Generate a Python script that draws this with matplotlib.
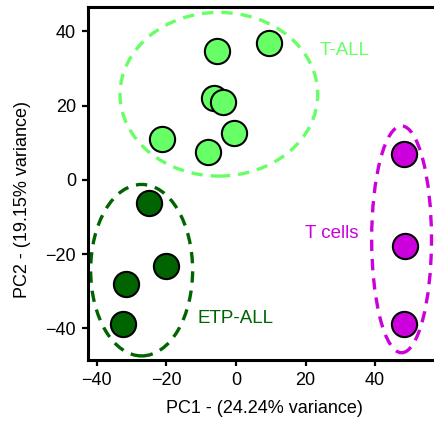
import matplotlib
matplotlib.use("Agg")
import matplotlib.pyplot as plt
from matplotlib.patches import Ellipse

plt.rcParams['font.family'] = ['Liberation Sans', 'DejaVu Sans']

# Data
tall_x = [-5.4, 9.6, -6.2, -3.6, -0.6, -21.3, -8.1]
tall_y = [34.8, 37.0, 22.2, 21.1, 12.6, 11.1, 7.6]
etp_x = [-25.0, -20.2, -31.5, -32.5]
etp_y = [-6.3, -23.3, -28.0, -38.7]
tcell_x = [48.2, 48.7, 48.4]
tcell_y = [6.9, -17.9, -38.8]

groups = ["T-ALL", "ETP-ALL", "T cells"]
colors = {"T-ALL": "#66FF66", "ETP-ALL": "#006400", "T cells": "#CC00DD"}
# ellipse: center x, center y, width, height
ellipses = {
    "T-ALL": (-4.9, 23.1, 56.8, 44.1),
    "ETP-ALL": (-27.1, -24.3, 29.3, 46.2),
    "T cells": (47.6, -16.0, 17.2, 61.1),
}
label_pos = {"T-ALL": (24.1, 34.8), "ETP-ALL": (-11.0, -37.3), "T cells": (19.8, -14.4)}

xticks = [-40, -20, 0, 20, 40]
yticks = [-40, -20, 0, 20, 40]
xlim = (-42.6, 60)
ylim = (-48.5, 46.6)

W, H = 434, 423
fig = plt.figure(figsize=(W / 100, H / 100), dpi=100)
left_px, top_px, bottom_px = 87.7, 7.0, 360.0
pxu = 3.48
right_px = left_px + (xlim[1] - xlim[0]) * pxu
ax = fig.add_axes([left_px / W, (H - bottom_px) / H, (right_px - left_px) / W, (bottom_px - top_px) / H])
ax.set_xlim(*xlim)
ax.set_ylim(*ylim)

pts = {"T-ALL": (tall_x, tall_y), "ETP-ALL": (etp_x, etp_y), "T cells": (tcell_x, tcell_y)}
for g in groups:
    cx, cy, w, h = ellipses[g]
    ax.add_patch(Ellipse((cx, cy), w, h, fill=False, edgecolor=colors[g],
                         linestyle=(0, (3.4, 2.4)), linewidth=2.4, zorder=2))
    xs, ys = pts[g]
    ax.scatter(xs, ys, s=330, c=colors[g], edgecolors='black', linewidths=1.5, zorder=3)
    lx, ly = label_pos[g]
    ax.text(lx, ly, g, color=colors[g], fontsize=13.5, ha='left', va='center', zorder=4)

for s in ax.spines.values():
    s.set_linewidth(2.2)
ax.set_xticks(xticks)
ax.set_yticks(yticks)
ax.tick_params(axis='both', length=4.5, width=1.6, labelsize=13, pad=4)

fig.text(264 / W, 1 - 408 / H, "PC1 - (24.24% variance)", fontsize=13, ha='center', va='center')
fig.text(23 / W, 1 - 199 / H, "PC2 - (19.15% variance)", fontsize=13, ha='center', va='center', rotation=90)

fig.savefig("out.png", dpi=100)
